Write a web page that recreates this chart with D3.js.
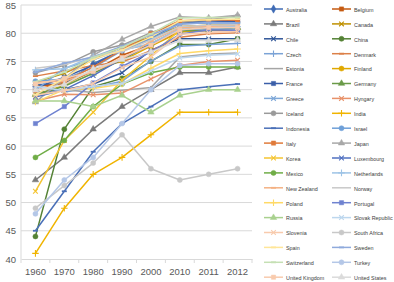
<!DOCTYPE html>
<html><head><meta charset="utf-8">
<script src="https://cdn.jsdelivr.net/npm/d3@7/dist/d3.min.js"></script>
<style>body{margin:0;background:#fff}svg{display:block}text{font-family:"Liberation Sans",Arial,sans-serif}</style>
</head><body><div id="chart"></div>
<script>
const years = ["1960","1970","1980","1990","2000","2010","2011","2012"];
const yTicks = [40,45,50,55,60,65,70,75,80,85];
const countries = ["Australia","Belgium","Brazil","Canada","Chile","China","Czech","Denmark","Estonia","Finland","France","Germany","Greece","Hyngary","Iceland","India","Indonesia","Israel","Italy","Japan","Korea","Luxembourg","Mexico","Netherlands","New Zealand","Norway","Poland","Portugal","Russia","Slovak Republic","Slovenia","South Africa","Spain","Sweden","Switzerland","Turkey","United Kingdom","United States"];
const australia = [70.9,71.0,74.6,77.0,79.3,81.8,82.0,82.1];
const belgium = [70.6,71.0,73.3,76.1,77.9,80.3,80.5,80.5];
const brazil = [54,58,63,67,70,73,73,74];
const canada = [71.3,72.9,75.3,77.6,79.3,81.2,81.4,81.5];
const chile = [69.5,70,71,73,77,79,79,79];
const china = [44,63,70.5,72,75,78,78,79];
const czech = [70.6,69.6,70.4,71.5,75.1,77.7,78.0,78.2];
const denmark = [72.4,73.3,74.3,74.9,76.9,79.3,79.9,80.1];
const estonia = [69,70,69.5,69.9,70.4,75.8,76.3,76.5];
const finland = [69,70.8,73.6,75.1,77.7,80.2,80.6,80.7];
const france = [70.3,72.2,74.3,77.0,79.2,81.8,82.3,82.1];
const germany = [69.1,70.6,72.9,75.3,78.2,80.5,80.5,81.0];
const greece = [69.9,73.8,75.3,77.1,78.0,80.6,80.8,80.7];
const hungary = [68,69.2,69.1,69.4,71.9,74.3,75.0,75.2];
const iceland = [73.0,74.3,76.7,77.9,80.1,81.9,82.4,83.0];
const india = [41,49,55,58,62,66,66,66];
const indonesia = [45,52,59,64,67,70,70.5,71];
const israel = [71.5,71.9,73.9,76.9,79.0,81.7,81.8,81.8];
const italy = [69.8,71.5,74.0,77.1,79.9,82.2,82.4,82.3];
const japan = [67.8,72.0,76.1,78.9,81.2,82.9,82.7,83.2];
const korea = [52,61,66,71.7,76.0,80.6,81.1,81.3];
const luxembourg = [68.7,70.0,72.5,75.5,78.0,80.8,81.1,81.5];
const mexico = [58,61,67,71,73,74,74,74];
const netherlands = [73.5,73.7,75.9,77.0,78.2,80.8,81.3,81.2];
const newZealand = [71.3,71.5,73.2,75.4,78.6,81.0,81.2,81.5];
const norway = [73.8,74.4,75.9,76.7,78.8,81.2,81.4,81.5];
const poland = [67.8,70,70.2,71,73.8,76.4,76.9,77.2];
const portugal = [64,67,71.2,74.1,76.7,79.8,80.6,80.5];
const russia = [68,68,67,69,66,69,70,70];
const slovakRepublic = [70.6,69.8,70.6,71.1,73.3,75.6,76.1,76.3];
const slovenia = [69,69.8,71.1,73.9,75.8,79.8,80.1,80.3];
const southAfrica = [49,53,57,62,56,54,55,56];
const spain = [69.1,72.0,75.4,77.0,79.3,82.2,82.4,82.5];
const sweden = [73.1,74.7,75.8,77.7,79.7,81.6,81.9,81.8];
const switzerland = [71.4,73.1,75.7,77.5,79.9,82.7,82.8,82.8];
const turkey = [48,54,58,64,70,74.3,74.6,74.6];
const unitedKingdom = [71.0,72.0,73.2,75.7,77.9,80.6,81.0,81.0];
const unitedStates = [69.9,70.9,73.7,75.3,76.7,78.7,78.7,78.8];
const seriesValues = [australia,belgium,brazil,canada,chile,china,czech,denmark,estonia,finland,france,germany,greece,hungary,iceland,india,indonesia,israel,italy,japan,korea,luxembourg,mexico,netherlands,newZealand,norway,poland,portugal,russia,slovakRepublic,slovenia,southAfrica,spain,sweden,switzerland,turkey,unitedKingdom,unitedStates];

// styles
const colors = ["#3f6bb5","#c55a11","#7a7a7a","#bf9000","#2f5597","#548235","#7ba3d6","#dc8048","#a5a5a5","#e0a800","#3a5ea8","#6a9a48","#7fa8d8","#e8926a","#9a9a9a","#f0b400","#4a70b8","#6fa0d8","#e07a3a","#a8a8a8","#f4c430","#5070c0","#70ad47","#9dc3e6","#f4b183","#c9c9c9","#ffd966","#6f82d0","#a9d18e","#bdd7ee","#f8cbad","#c8c8c8","#ffe699","#8faadc","#c5e0b4","#b4c7e7","#f8cbad","#dbdbdb"];
const markers = ["diamond","square","triangle","times","times","circle","plus","dash","none","circle","square","triangle","times","times","circle","plus","dash","circle","square","triangle","times","times","circle","plus","dash","none","plus","square","triangle","times","times","circle","dash","dash","dash","circle","square","triangle"];

const W = 394, H = 282;
const svg = d3.select("#chart").append("svg").attr("width", W).attr("height", H);
const x = d3.scaleBand().domain(years).range([21, 252]);
const y = d3.scaleLinear().domain([40, 85]).range([259, 5]);
const cx = d => x(d) + x.bandwidth()/2;

// gridlines
svg.append("g").selectAll("line").data(yTicks.filter(t => t > 40)).join("line")
  .attr("x1", 21).attr("x2", 252).attr("y1", d => y(d)).attr("y2", d => y(d))
  .attr("stroke", "#d9d9d9").attr("stroke-width", 1);
// vertical axis line
svg.append("line").attr("x1", 21).attr("x2", 21).attr("y1", y(85)).attr("y2", y(40)).attr("stroke", "#d9d9d9");

// y axis labels
const yAxis = svg.append("g").attr("transform", "translate(21,0)")
  .call(d3.axisLeft(y).tickValues(yTicks).tickSize(0).tickPadding(5));
yAxis.select(".domain").remove();
yAxis.selectAll("text").attr("font-size", 9.5).attr("fill", "#595959").style("font-family", '"Liberation Sans",Arial,sans-serif');

// x axis
const xAxis = svg.append("g").attr("transform", `translate(0,${y(40)})`)
  .call(d3.axisBottom(x).tickSize(0).tickPadding(9));
xAxis.select(".domain").attr("stroke", "#d9d9d9");
xAxis.selectAll("text").attr("font-size", 9.5).attr("fill", "#595959").style("font-family", '"Liberation Sans",Arial,sans-serif');
svg.append("g").selectAll("line").data(d3.range(years.length + 1)).join("line")
  .attr("x1", i => 21 + i * x.step()).attr("x2", i => 21 + i * x.step())
  .attr("y1", y(40)).attr("y2", y(40) + 4).attr("stroke", "#d9d9d9");

const symMap = {diamond: d3.symbolDiamond, square: d3.symbolSquare, triangle: d3.symbolTriangle, circle: d3.symbolCircle, times: d3.symbolTimes, plus: d3.symbolPlus};
function drawMarker(g, type, color, px, py) {
  if (type === "none") return;
  if (type === "dash") {
    g.append("line").attr("x1", px - 2.5).attr("x2", px + 2.5).attr("y1", py).attr("y2", py)
      .attr("stroke", color).attr("stroke-width", 1.8);
    return;
  }
  const stroked = type === "times" || type === "plus";
  const size = {diamond: 20, square: 18, triangle: 18, circle: 20, times: 16, plus: 16}[type];
  g.append("path").attr("d", d3.symbol(symMap[type], size)())
    .attr("transform", `translate(${px},${py})`)
    .attr("fill", stroked ? "none" : color)
    .attr("stroke", color).attr("stroke-width", stroked ? 1.1 : 0.5);
}

const line = d3.line().x((d, i) => cx(years[i])).y(d => y(d));
const plot = svg.append("g");
seriesValues.forEach((vals, si) => {
  const g = plot.append("g");
  g.append("path").attr("d", line(vals)).attr("fill", "none")
    .attr("stroke", colors[si]).attr("stroke-width", 1.5).attr("stroke-linejoin", "round");
  vals.forEach((v, i) => drawMarker(g, markers[si], colors[si], cx(years[i]), y(v)));
});

// legend
const leg = svg.append("g");
countries.forEach((name, i) => {
  const col = i % 2, row = Math.floor(i / 2);
  const lx = col === 0 ? 264 : 332;
  const ly = 9 + row * 14.9;
  const g = leg.append("g");
  g.append("line").attr("x1", lx).attr("x2", lx + 19).attr("y1", ly).attr("y2", ly)
    .attr("stroke", colors[i]).attr("stroke-width", 1.5);
  drawMarker(g, markers[i], colors[i], lx + 9.5, ly);
  g.append("text").attr("x", lx + 22).attr("y", ly + 2.8).attr("font-size", 5.4)
    .attr("fill", "#404040").text(name);
});
</script></body></html>
